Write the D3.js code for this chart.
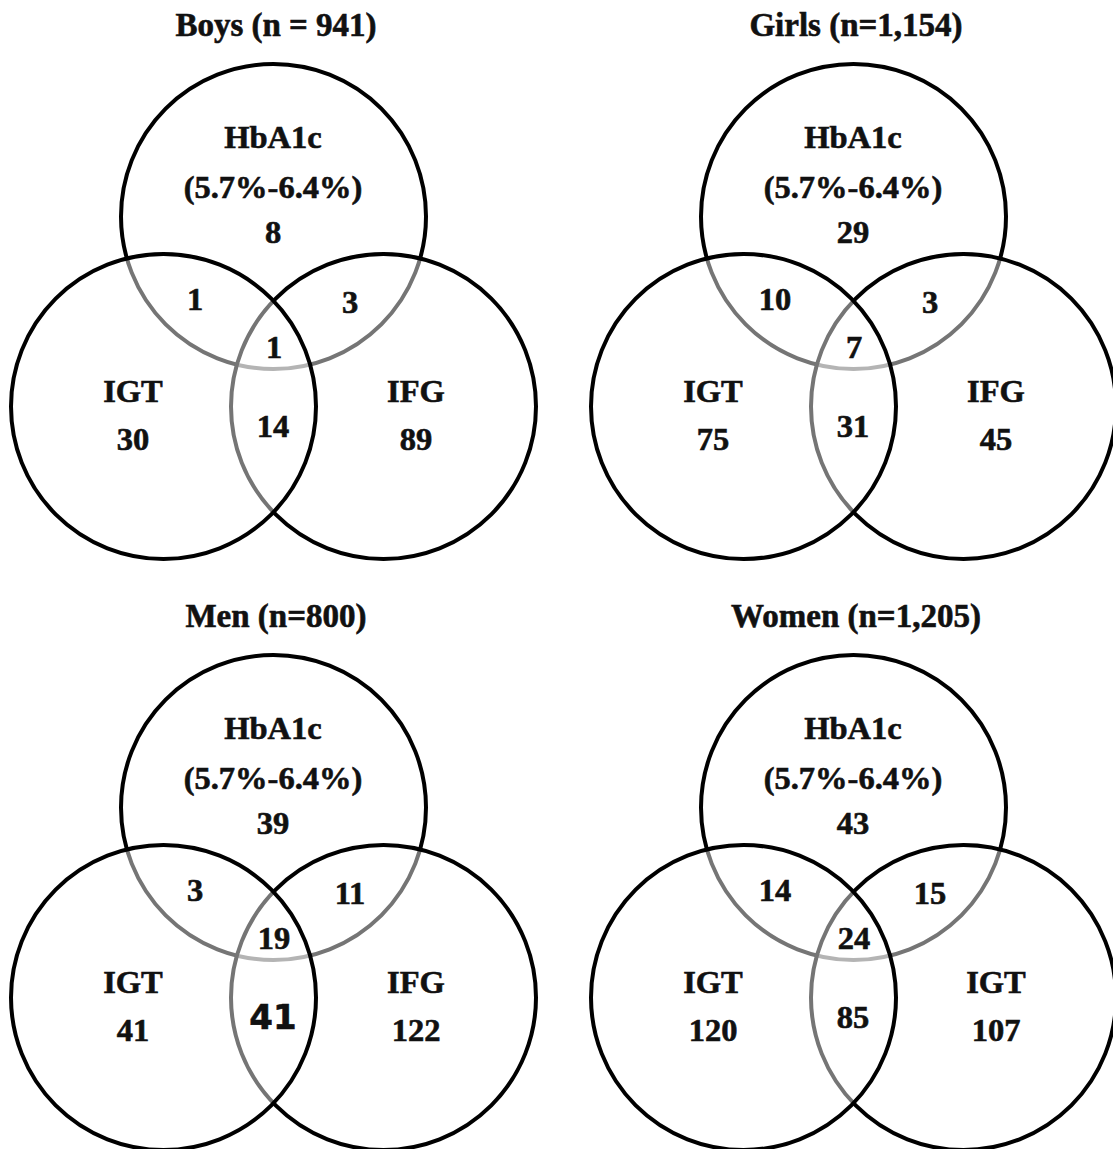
<!DOCTYPE html>
<html>
<head>
<meta charset="utf-8">
<script src="https://cdn.jsdelivr.net/npm/d3@7"></script>
<style>
  body { margin: 0; background: #fff; }
  text { font-family: "Liberation Serif", "Times New Roman", serif; font-weight: bold; fill: #111; stroke: #111; stroke-width: 0.6px; }
</style>
</head>
<body>
<div id="chart"></div>
<script>
// ---- data ----
const panelTitles = ["Boys (n = 941)", "Girls (n=1,154)", "Men (n=800)", "Women (n=1,205)"];
const topSetName = ["HbA1c", "HbA1c", "HbA1c", "HbA1c"];
const topSetRange = ["(5.7%-6.4%)", "(5.7%-6.4%)", "(5.7%-6.4%)", "(5.7%-6.4%)"];
const leftSetName = ["IGT", "IGT", "IGT", "IGT"];
const rightSetName = ["IFG", "IFG", "IFG", "IGT"];

const hbOnly  = [8, 29, 39, 43];
const igtOnly = [30, 75, 41, 120];
const ifgOnly = [89, 45, 122, 107];
const hbIgt   = [1, 10, 3, 14];
const hbIfg   = [3, 3, 11, 15];
const igtIfg  = [14, 31, 41, 85];
const allThree = [1, 7, 19, 24];

// the one count that was typed in a different font in the original
const oddFontCell = {panel: 2, key: "igtIfg"};

// ---- layout ----
let width = 1113, height = 1149;
let svg = d3.select("#chart").append("svg")
    .attr("width", width)
    .attr("height", height);

// panel grid: column / row -> offset
let colX = d3.scaleLinear().domain([0, 1]).range([0, 580]);
let rowY = d3.scaleLinear().domain([0, 1]).range([0, 591]);

// venn geometry in units of one radius, mapped to local px
let r = 152.5;
let ux = d3.scaleLinear().domain([0, 1]).range([273.5, 273.5 + r]);
let uy = d3.scaleLinear().domain([0, 1]).range([216.5, 216.5 + r]);
let circles = [
    {key: "hb",  cx: 0,      cy: 0},
    {key: "ifg", cx: 0.7213, cy: 1.2459},
    {key: "igt", cx: -0.7213, cy: 1.2459}
];

// label anchors (local px)
let labelPos = {
    title:    [276, 36],
    hbName:   [273, 148],
    hbRange:  [273, 198],
    hbOnly:   [273, 243],
    hbIgt:    [195, 310],
    hbIfg:    [350, 313],
    allThree: [274, 358],
    igtIfg:   [273, 437],
    igtName:  [133, 402],
    igtOnly:  [133, 450],
    ifgName:  [416, 402],
    ifgOnly:  [416, 450]
};

panelTitles.forEach((title, p) => {
    let g = svg.append("g")
        .attr("transform", `translate(${colX(p % 2)}, ${rowY(Math.floor(p / 2))})`);

    // circles: later ones drawn over earlier ones, their half-clear fill greys the lines beneath
    g.selectAll("circle")
        .data(circles)
        .enter()
        .append("circle")
        .attr("cx", d => ux(d.cx))
        .attr("cy", d => uy(d.cy))
        .attr("r", r)
        .attr("fill", "#fff")
        .attr("fill-opacity", 0.46)
        .attr("stroke", "#000")
        .attr("stroke-width", 4);

    let labels = [
        {key: "title",    text: title},
        {key: "hbName",   text: topSetName[p]},
        {key: "hbRange",  text: topSetRange[p]},
        {key: "hbOnly",   text: hbOnly[p]},
        {key: "hbIgt",    text: hbIgt[p]},
        {key: "hbIfg",    text: hbIfg[p]},
        {key: "allThree", text: allThree[p]},
        {key: "igtIfg",   text: igtIfg[p]},
        {key: "igtName",  text: leftSetName[p]},
        {key: "igtOnly",  text: igtOnly[p]},
        {key: "ifgName",  text: rightSetName[p]},
        {key: "ifgOnly",  text: ifgOnly[p]}
    ];

    let isOdd = d => p === oddFontCell.panel && d.key === oddFontCell.key;

    g.selectAll(".label")
        .data(labels)
        .enter()
        .append("text")
        .attr("class", "label")
        .attr("x", d => labelPos[d.key][0])
        .attr("y", d => labelPos[d.key][1] + (isOdd(d) ? 1 : 0))
        .attr("text-anchor", "middle")
        .style("font-family", d => isOdd(d) ? "'DejaVu Sans', sans-serif" : null)
        .style("font-size", d => isOdd(d) ? "34px" : (d.key === "title" ? "33px" : "32.5px"))
        .text(d => d.text);
});
</script>
</body>
</html>
